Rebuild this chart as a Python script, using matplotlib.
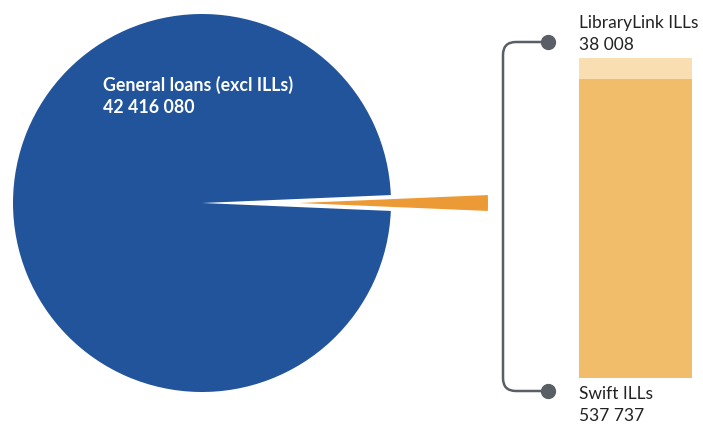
import matplotlib.pyplot as plt
from matplotlib.path import Path
from matplotlib.patches import PathPatch

plt.rcParams['font.family'] = ['Lato', 'DejaVu Sans']

# data
general_label = "General loans (excl ILLs)"
general_loans = 42416080
ill_labels = ["Swift ILLs", "LibraryLink ILLs"]
ill_values = [537737, 38008]

blue = '#22549b'
orange = '#ec9a35'
bar_colors = ['#f1bd6b', '#f8deb0']
grey = '#5a5f67'

W, H = 703, 425
fig = plt.figure(figsize=(W / 100, H / 100), dpi=100)
ax = fig.add_axes([0, 0, 1, 1])

def fmt(v):
    return f"{v:,}".replace(",", " ")

# pie (pixel coords, y flipped)
R = 189
ill_total = sum(ill_values)
frac = ill_total / (ill_total + general_loans)
ax.pie([ill_total, general_loans], colors=[orange, blue],
       startangle=-frac * 180, explode=[97, 0],
       radius=R, center=(202, H - 203),
       wedgeprops=dict(linewidth=0))
ax.set_xlim(0, W)
ax.set_ylim(0, H)
ax.set_aspect('auto')
ax.axis('off')

ax.text(103, H - 96, f"{general_label}\n{fmt(general_loans)}", color='white',
        fontsize=12.8, fontweight='bold', va='center', ha='left', linespacing=1.3)

# connector bracket
x0, x1, y_top, y_bot, r = 503, 548, H - 42, H - 391, 13
verts = [(x1, y_top), (x0 + r, y_top), (x0, y_top), (x0, y_top - r),
         (x0, y_bot + r), (x0, y_bot), (x0 + r, y_bot), (x1, y_bot)]
codes = [Path.MOVETO, Path.LINETO, Path.CURVE3, Path.CURVE3,
         Path.LINETO, Path.CURVE3, Path.CURVE3, Path.LINETO]
ax.add_patch(PathPatch(Path(verts, codes), fill=False, edgecolor=grey, lw=1.8,
                       capstyle='round'))
ax.plot([x1, x1], [y_top, y_bot], 'o', color=grey, markersize=10, linestyle='none')

# stacked bar
bax = fig.add_axes([579 / W, (H - 378) / H, 113 / W, 320 / H])
bottom = 0
for v, c in zip(ill_values, bar_colors):
    bax.bar(0, v, bottom=bottom, width=1, color=c, linewidth=0)
    bottom += v
bax.set_xlim(-0.5, 0.5)
bax.set_ylim(0, ill_total)
bax.axis('off')

ax.text(579, H - 34, f"{ill_labels[1]}\n{fmt(ill_values[1])}", fontsize=12.5,
        color='#222222', va='center', ha='left', linespacing=1.45)
ax.text(579, H - 405, f"{ill_labels[0]}\n{fmt(ill_values[0])}", fontsize=12.5,
        color='#222222', va='center', ha='left', linespacing=1.4)

fig.savefig('out.png', dpi=100)
